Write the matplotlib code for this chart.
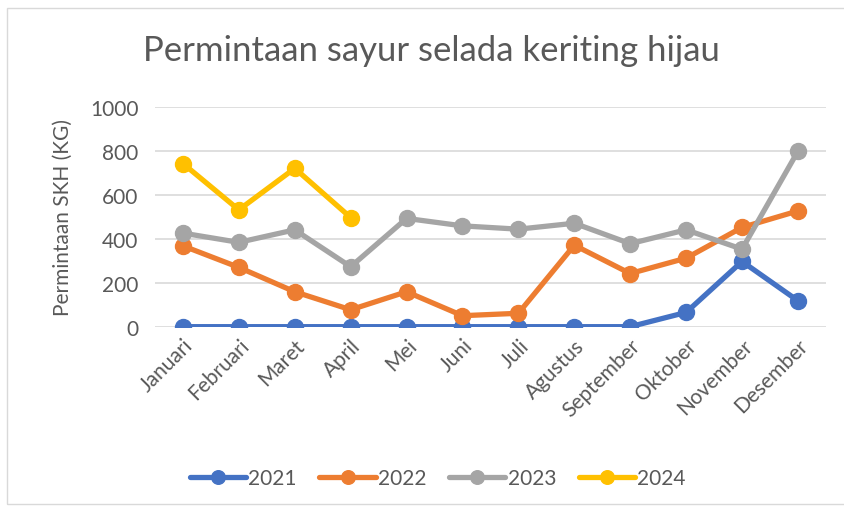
import matplotlib.pyplot as plt
from matplotlib.patches import Rectangle

# data
bulan = ["Januari", "Februari", "Maret", "April", "Mei", "Juni", "Juli",
         "Agustus", "September", "Oktober", "November", "Desember"]
y2021 = [0, 0, 0, 0, 0, 0, 0, 0, 0, 65, 297, 118]
y2022 = [368, 270, 159, 77, 159, 50, 61, 371, 242, 312, 452, 527]
y2023 = [426, 384, 441, 273, 493, 459, 444, 471, 378, 441, 353, 799]
y2024 = [743, 532, 721, 497]

series = [("2021", y2021, "#4472C4"), ("2022", y2022, "#ED7D31"),
          ("2023", y2023, "#A5A5A5"), ("2024", y2024, "#FFC000")]

plt.rcParams['font.family'] = ['Lato', 'DejaVu Sans']
teks = "#595959"

fig = plt.figure(figsize=(8.45, 5.1), dpi=100)
fig.patches.append(Rectangle((0.008, 0.01), 1.2, 0.972, transform=fig.transFigure,
                             fill=False, edgecolor="#D9D9D9", linewidth=1))
ax = fig.add_axes([0.1834, 0.3575, 0.794, 0.4306])

x = list(range(len(bulan)))
for nama, vals, warna in series:
    ax.plot(x[:len(vals)], vals, color=warna, linewidth=3.8, marker="o",
            markersize=11.5, label=nama, solid_capstyle="round")

ax.set_xlim(-0.5, len(bulan) - 0.5)
ax.set_ylim(0, 1000)
ax.set_yticks(range(0, 1001, 200))
ax.yaxis.grid(True, color="#D9D9D9", linewidth=1.2)
ax.set_axisbelow(True)
for s in ax.spines.values():
    s.set_visible(False)
ax.tick_params(axis="both", length=0, colors=teks, labelsize=15)
ax.tick_params(axis="y", pad=12)
ax.tick_params(axis="x", pad=6)
ax.set_xticks(x)
ax.set_xticklabels(bulan, rotation=45, ha="right", rotation_mode="anchor")

ax.set_ylabel("Permintaan SKH (KG)", color=teks, fontsize=15, labelpad=12)
fig.text(0.51, 0.9, "Permintaan sayur selada keriting hijau", ha="center",
         va="center", color=teks, fontsize=25)

fig.legend(loc="center", bbox_to_anchor=(0.518, 0.06), ncol=4, frameon=False,
           fontsize=15, labelcolor=teks, handlelength=2.7, columnspacing=1.1,
           handletextpad=0.1, markerscale=0.85)

fig.savefig("out.png", dpi=100)
